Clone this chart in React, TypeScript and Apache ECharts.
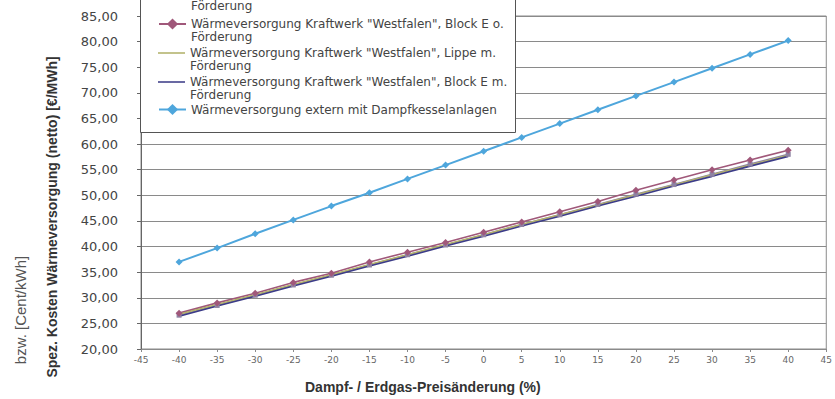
import React, { useEffect, useRef } from "react";
import * as echarts from "echarts";

const xValues = [-40, -35, -30, -25, -20, -15, -10, -5, 0, 5, 10, 15, 20, 25, 30, 35, 40];

const seriesNames = [
  'Wärmeversorgung Kraftwerk "Westfalen", Lippe o. Förderung',
  'Wärmeversorgung Kraftwerk "Westfalen", Block E o. Förderung',
  'Wärmeversorgung Kraftwerk "Westfalen", Lippe m. Förderung',
  'Wärmeversorgung Kraftwerk "Westfalen", Block E m. Förderung',
  "Wärmeversorgung extern mit Dampfkesselanlagen",
];

const lippeOhne = [26.6, 28.5, 30.5, 32.5, 34.4, 36.4, 38.4, 40.3, 42.3, 44.3, 46.2, 48.2, 50.2, 52.1, 54.1, 56.1, 58.0];
const blockOhne = [27.0, 29.0, 30.9, 33.0, 34.8, 37.0, 38.9, 40.8, 42.8, 44.8, 46.8, 48.8, 51.0, 53.0, 55.0, 56.9, 58.8];
const lippeMit = [26.8, 28.7, 30.6, 32.6, 34.5, 36.5, 38.4, 40.4, 42.3, 44.3, 46.2, 48.1, 50.1, 52.0, 54.0, 55.9, 57.8];
const blockMit = [26.4, 28.4, 30.3, 32.3, 34.2, 36.2, 38.1, 40.1, 42.0, 44.0, 45.9, 47.9, 49.8, 51.8, 53.7, 55.7, 57.6];
const extern = [37.0, 39.7, 42.5, 45.2, 47.9, 50.5, 53.2, 55.9, 58.6, 61.3, 64.0, 66.7, 69.4, 72.1, 74.8, 77.5, 80.2];

const seriesValues = [lippeOhne, blockOhne, lippeMit, blockMit, extern];
const seriesColors = ["#8e82a2", "#a0587a", "#b2b26a", "#3c3c88", "#4ea6dc"];
const seriesSymbols = ["rect", "diamond", "none", "none", "diamond"];
const seriesSymbolSizes = [5, 7, 0, 0, 7];

const yTitle = "Spez. Kosten Wärmeversorgung (netto) [€/MWh]";
const yTitle2 = "bzw. [Cent/kWh]";
const xTitle = "Dampf- / Erdgas-Preisänderung (%)";

// legend: y of each entry's first text row (layout)
const legendRows = [-7, 24, 53, 82, 110];
const LINE_H = 13;

export default function App() {
  const ref = useRef<HTMLDivElement>(null);
  useEffect(() => {
    if (!ref.current) return;
    const chart = echarts.init(ref.current, null, { renderer: "svg" });
    const series = seriesNames.map((name, i) => ({
      name,
      type: "line",
      data: xValues.map((x, j) => [x, seriesValues[i][j]]),
      symbol: seriesSymbols[i],
      symbolSize: seriesSymbolSizes[i],
      showSymbol: seriesSymbols[i] !== "none",
      lineStyle: { color: seriesColors[i], width: i === 4 ? 2 : 1.6 },
      itemStyle: { color: seriesColors[i] },
      z: 2,
    }));
    const legends = seriesNames.map((name, i) => {
      const twoLines = name.endsWith(" Förderung");
      return {
        orient: "vertical",
        left: 158,
        top: twoLines ? legendRows[i] - 1.5 * LINE_H : legendRows[i] - 7,
        padding: 0,
        itemGap: 0,
        itemWidth: 27,
        itemHeight: 14,
        z: 5,
        formatter: (n: string) =>
          n.endsWith(" Förderung") ? "\n" + n.replace(" Förderung", "\nFörderung") : n,
        textStyle: {
          fontFamily: "DejaVu Sans",
          fontSize: 12,
          color: "#444",
          lineHeight: LINE_H,
        },
        data: [
          seriesSymbols[i] === "none"
            ? { name, icon: "path://M0,0L28,0L28,1.6L0,1.6Z" }
            : { name },
        ],
      };
    });
    chart.setOption({
      animation: false,
      backgroundColor: "#ffffff",
      grid: {
        left: 141,
        right: 3,
        top: 16,
        bottom: 50,
        show: true,
        borderColor: "#8a8a8a",
        borderWidth: 1,
      },
      xAxis: {
        type: "value",
        min: -45,
        max: 45,
        interval: 5,
        axisLine: { show: true, onZero: false, lineStyle: { color: "#8a8a8a" } },
        axisTick: { show: true, inside: false, length: 3, lineStyle: { color: "#8a8a8a" } },
        splitLine: { show: false },
        axisLabel: { fontFamily: "DejaVu Sans", fontSize: 9, color: "#666", margin: 6 },
      },
      yAxis: {
        type: "value",
        min: 20,
        max: 85,
        interval: 5,
        axisLine: { show: true, onZero: false, lineStyle: { color: "#666" } },
        axisTick: { show: true, inside: false, length: 4, lineStyle: { color: "#666" } },
        splitLine: { show: true, lineStyle: { color: "#8a8a8a", width: 1 } },
        axisLabel: {
          fontFamily: "DejaVu Sans",
          fontSize: 13,
          color: "#444",
          margin: 23,
          formatter: (v: number) => v.toFixed(2).replace(".", ","),
        },
      },
      legend: legends,
      graphic: [
        {
          type: "rect",
          z: 4,
          shape: { x: 140.5, y: -10, width: 375, height: 142.5 },
          style: { fill: "#ffffff", stroke: "#555", lineWidth: 1 },
        },
        {
          type: "text",
          x: 52,
          y: 217,
          rotation: Math.PI / 2,
          style: {
            text: yTitle,
            fontFamily: "Liberation Sans",
            fontWeight: "bold",
            fontSize: 14,
            fill: "#333",
            align: "center",
            verticalAlign: "middle",
          },
        },
        {
          type: "text",
          x: 20,
          y: 310,
          rotation: Math.PI / 2,
          style: {
            text: yTitle2,
            fontFamily: "Liberation Sans",
            fontSize: 15,
            fill: "#555",
            align: "center",
            verticalAlign: "middle",
          },
        },
        {
          type: "text",
          x: 305,
          y: 387,
          style: {
            text: xTitle,
            fontFamily: "Liberation Sans",
            fontWeight: "bold",
            fontSize: 14,
            fill: "#333",
            align: "left",
            verticalAlign: "middle",
          },
        },
      ],
      series,
    });
    return () => chart.dispose();
  }, []);
  return <div ref={ref} style={{ width: 835, height: 399, position: "absolute", left: 0, top: 0 }} />;
}
